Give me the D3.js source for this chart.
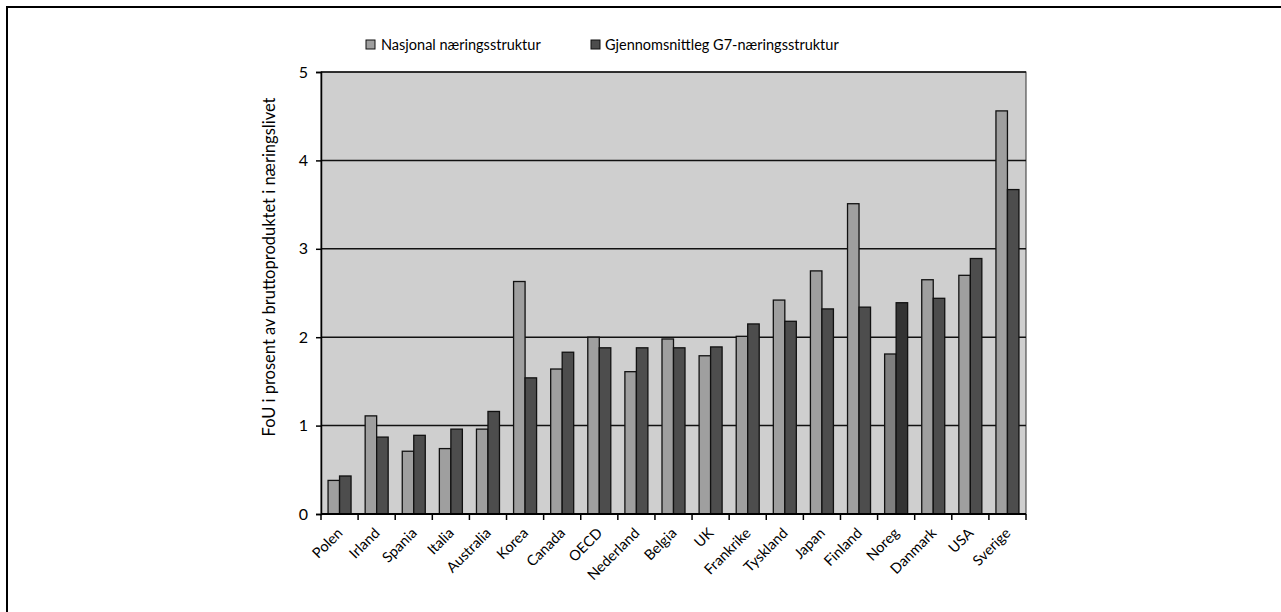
<!DOCTYPE html>
<html><head><meta charset="utf-8">
<script src="https://cdn.jsdelivr.net/npm/d3@7"></script>
<style>
html,body{margin:0;padding:0;background:#fff;}
svg{display:block;}
text{font-family:Lato,"Open Sans",sans-serif;fill:#000;}
</style></head>
<body>
<svg id="c" width="1281" height="612"></svg>
<script>
const categories = ["Polen","Irland","Spania","Italia","Australia","Korea","Canada","OECD","Nederland","Belgia","UK","Frankrike","Tyskland","Japan","Finland","Noreg","Danmark","USA","Sverige"];
const nasjonal = [0.38,1.11,0.71,0.74,0.96,2.63,1.64,2.00,1.61,1.98,1.79,2.01,2.42,2.75,3.51,1.81,2.65,2.70,4.56];
const g7 = [0.43,0.87,0.89,0.96,1.16,1.54,1.83,1.88,1.88,1.88,1.89,2.15,2.18,2.32,2.34,2.39,2.44,2.89,3.67];
const seriesNames = ["Nasjonal næringsstruktur","Gjennomsnittleg G7-næringsstruktur"];
const yTicks = [0,1,2,3,4,5];
const yLabel = "FoU i prosent av bruttoproduktet i næringslivet";
const highlight = "Noreg";

const svg = d3.select("#c");
svg.append("rect").attr("x",7).attr("y",7).attr("width",1300).attr("height",640)
  .attr("fill","none").attr("stroke","#000").attr("stroke-width",2);

const L=321,R=1026,T=72,B=514;
const x = d3.scaleBand().domain(categories).range([L,R]).paddingInner(0).paddingOuter(0);
const y = d3.scaleLinear().domain([0,5]).range([B,T]);
const sub = d3.scaleBand().domain([0,1]).range([0,23]);
const barOff = (x.bandwidth()-23)/2;

svg.append("rect").attr("x",L).attr("y",T).attr("width",R-L).attr("height",B-T)
  .attr("fill","#cfcfcf").attr("stroke","#333").attr("stroke-width",1);

svg.append("g").selectAll("line").data(yTicks.filter(d=>d>0)).join("line")
  .attr("x1",L).attr("x2",R).attr("y1",d=>y(d)).attr("y2",d=>y(d))
  .attr("stroke","#111").attr("stroke-width",1.5);

const colors = {n:["#9f9f9f","#4d4d4d"], h:["#7f7f7f","#333333"]};
const g = svg.append("g");
categories.forEach((c,i)=>{
  [nasjonal[i],g7[i]].forEach((v,j)=>{
    const col = (c===highlight?colors.h:colors.n)[j];
    g.append("rect")
      .attr("x",x(c)+barOff+sub(j)).attr("width",sub.bandwidth())
      .attr("y",y(v)).attr("height",B-y(v))
      .attr("fill",col).attr("stroke","#111").attr("stroke-width",1.3);
  });
});

const yAxis = d3.axisLeft(y).tickValues(yTicks).tickSize(5).tickPadding(8).tickFormat(d3.format("d"));
const ya = svg.append("g").attr("transform",`translate(${L},0)`).call(yAxis);
ya.select(".domain").attr("stroke","#000").attr("stroke-width",1.5);
ya.selectAll(".tick line").attr("stroke","#000").attr("stroke-width",1.5);
ya.selectAll(".tick text").style("font-size","16px").style("font-family","Lato,sans-serif");

const xa = svg.append("g").attr("transform",`translate(0,${B})`);
xa.append("line").attr("x1",L).attr("x2",R).attr("y1",0).attr("y2",0).attr("stroke","#000").attr("stroke-width",2);
xa.selectAll("line.tk").data(d3.range(categories.length+1)).join("line").attr("class","tk")
  .attr("x1",i=>L+i*x.bandwidth()).attr("x2",i=>L+i*x.bandwidth())
  .attr("y1",0).attr("y2",6).attr("stroke","#000").attr("stroke-width",1.5);
xa.selectAll("text").data(categories).join("text")
  .attr("transform",d=>`translate(${x(d)+x.bandwidth()/2+4},${20}) rotate(-45)`)
  .attr("text-anchor","end").style("font-size","14.5px").text(d=>d);

svg.append("text").attr("transform","translate(275,267) rotate(-90)")
  .attr("text-anchor","middle").style("font-size","16.5px").text(yLabel);

const leg = [[366,381],[591,605]];
seriesNames.forEach((s,j)=>{
  svg.append("rect").attr("x",leg[j][0]).attr("y",40).attr("width",9).attr("height",9)
    .attr("fill",colors.n[j]).attr("stroke","#111").attr("stroke-width",1);
  svg.append("text").attr("x",leg[j][1]).attr("y",50).style("font-size","14.5px").text(s);
});
</script>
</body></html>
